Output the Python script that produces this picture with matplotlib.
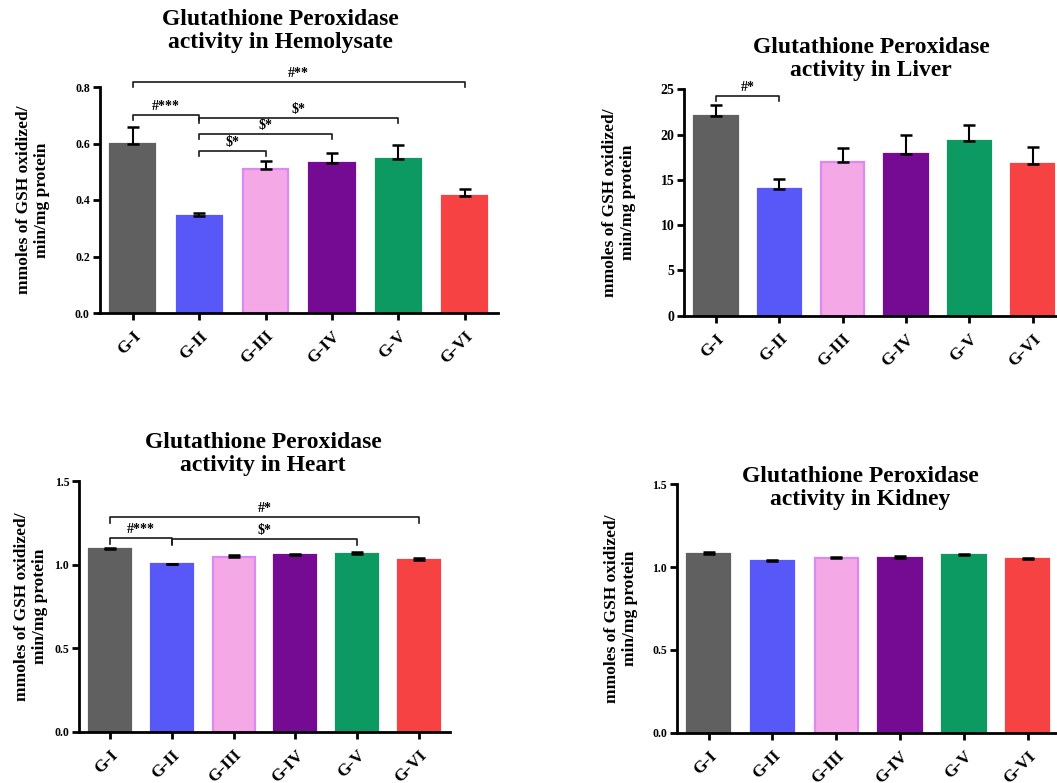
import matplotlib
matplotlib.use("Agg")
import matplotlib.pyplot as plt
import numpy as np

plt.rcParams['font.family'] = ['Liberation Serif', 'DejaVu Serif']
plt.rcParams['font.weight'] = 'bold'

groups = ["G-I", "G-II", "G-III", "G-IV", "G-V", "G-VI"]

hemo_mean = [0.600, 0.342, 0.508, 0.530, 0.544, 0.413]
hemo_err = [0.060, 0.013, 0.031, 0.036, 0.051, 0.025]
liver_mean = [22.1, 13.95, 17.0, 17.85, 19.3, 16.75]
liver_err = [1.15, 1.15, 1.5, 2.05, 1.75, 1.9]
heart_mean = [1.095, 1.005, 1.049, 1.057, 1.065, 1.031]
heart_err = [0.008, 0.003, 0.012, 0.009, 0.012, 0.012]
kidney_mean = [1.081, 1.035, 1.053, 1.057, 1.071, 1.047]
kidney_err = [0.012, 0.010, 0.010, 0.010, 0.008, 0.010]

hemo_yticks = [0.0, 0.2, 0.4, 0.6, 0.8]
liver_yticks = [0, 5, 10, 15, 20, 25]
heart_yticks = [0.0, 0.5, 1.0, 1.5]
kidney_yticks = [0.0, 0.5, 1.0, 1.5]

# significance brackets: (from group, to group, height, label)
hemo_sig = [(0, 1, 0.700, "#***"), (1, 2, 0.573, "$*"), (1, 3, 0.635, "$*"),
            (1, 4, 0.691, "$*"), (0, 5, 0.817, "#**")]
liver_sig = [(0, 1, 24.3, "#*")]
heart_sig = [(0, 1, 1.161, "#***"), (1, 4, 1.153, "$*"), (0, 5, 1.288, "#*")]
kidney_sig = []

titles = ["Glutathione Peroxidase\nactivity in Hemolysate",
          "Glutathione Peroxidase\nactivity in Liver",
          "Glutathione Peroxidase\nactivity in Heart",
          "Glutathione Peroxidase\nactivity in Kidney"]
ylabel = "mmoles of GSH oxidized/\nmin/mg protein"

face = ["#606060", "#5858F8", "#F4A8E6", "#750A93", "#0C9A62", "#F74244"]
edge = ["#606060", "#5858F8", "#DC8AF2", "#750A93", "#0C9A62", "#F74244"]

W, H = 1057, 783
fig = plt.figure(figsize=(W / 100, H / 100), dpi=100)


def px_axes(left, right, bottom, top):
    return fig.add_axes([left / W, 1 - bottom / H, (right - left) / W, (bottom - top) / H])


panels = [
    dict(box=(99.5, 498, 313, 87), mean=hemo_mean, err=hemo_err, yt=hemo_yticks,
         ylim=0.8, fmt="{:.1f}", sig=hemo_sig, drop=0.018, tfs=8.5,
         title_xy=(280, 31), ylab_x=33),
    dict(box=(684.3, 1064.4, 315.7, 89.3), mean=liver_mean, err=liver_err, yt=liver_yticks,
         ylim=25, fmt="{:.0f}", sig=liver_sig, drop=0.6, tfs=10,
         title_xy=(871, 59), ylab_x=619),
    dict(box=(79, 450, 732, 481.3), mean=heart_mean, err=heart_err, yt=heart_yticks,
         ylim=1.5, fmt="{:.1f}", sig=heart_sig, drop=0.035, tfs=8.5,
         title_xy=(263, 454), ylab_x=31),
    dict(box=(676.7, 1059.7, 732.7, 484.3), mean=kidney_mean, err=kidney_err, yt=kidney_yticks,
         ylim=1.5, fmt="{:.1f}", sig=kidney_sig, drop=0.03, tfs=8.5,
         title_xy=(860, 488), ylab_x=621),
]

x = np.arange(len(groups))
for p, title in zip(panels, titles):
    l, r, b, t = p["box"]
    ax = px_axes(l, r, b, t)
    ax.bar(x, p["mean"], width=0.68, color=face, edgecolor=edge, linewidth=1.6, zorder=2)
    ax.errorbar(x, p["mean"], yerr=[np.zeros(len(x)), p["err"]], fmt="none",
                ecolor="black", elinewidth=1.5, capsize=4.4, capthick=1.8, zorder=3)
    ax.set_xlim(-0.5, 5.5)
    ax.set_ylim(0, p["ylim"])
    ax.set_yticks(p["yt"])
    ax.set_yticklabels([p["fmt"].format(v) for v in p["yt"]], fontsize=p["tfs"], fontweight="bold")
    ax.set_xticks(x)
    ax.set_xticklabels(groups, rotation=45, ha="right", va="top", rotation_mode="anchor",
                       fontsize=12.5, fontweight="bold")
    for s in ["top", "right"]:
        ax.spines[s].set_visible(False)
    for s in ["left", "bottom"]:
        ax.spines[s].set_linewidth(2)
    ax.tick_params(axis="both", direction="out", width=2, length=5, pad=2)
    ax.tick_params(axis="x", pad=6)
    for (i, j, y, lab) in p["sig"]:
        d = p["drop"]
        ax.plot([i, i, j, j], [y - d, y, y, y - d], color="#1a1a1a", lw=1.2,
                clip_on=False, zorder=4)
        ax.annotate(lab, xy=((i + j) / 2, y), xytext=(0, 1.5), textcoords="offset points",
                    ha="center", va="bottom", fontsize=10, fontweight="bold",
                    annotation_clip=False)
    tx, ty = p["title_xy"]
    fig.text(tx / W, 1 - ty / H, title, ha="center", va="center", fontsize=17,
             fontweight="bold", linespacing=1.15)
    yc = (b + t) / 2
    fig.text(p["ylab_x"] / W, 1 - yc / H, ylabel, ha="center", va="center",
             rotation=90, fontsize=12.5, fontweight="bold", linespacing=1.2)

fig.savefig("out.png", dpi=100)
